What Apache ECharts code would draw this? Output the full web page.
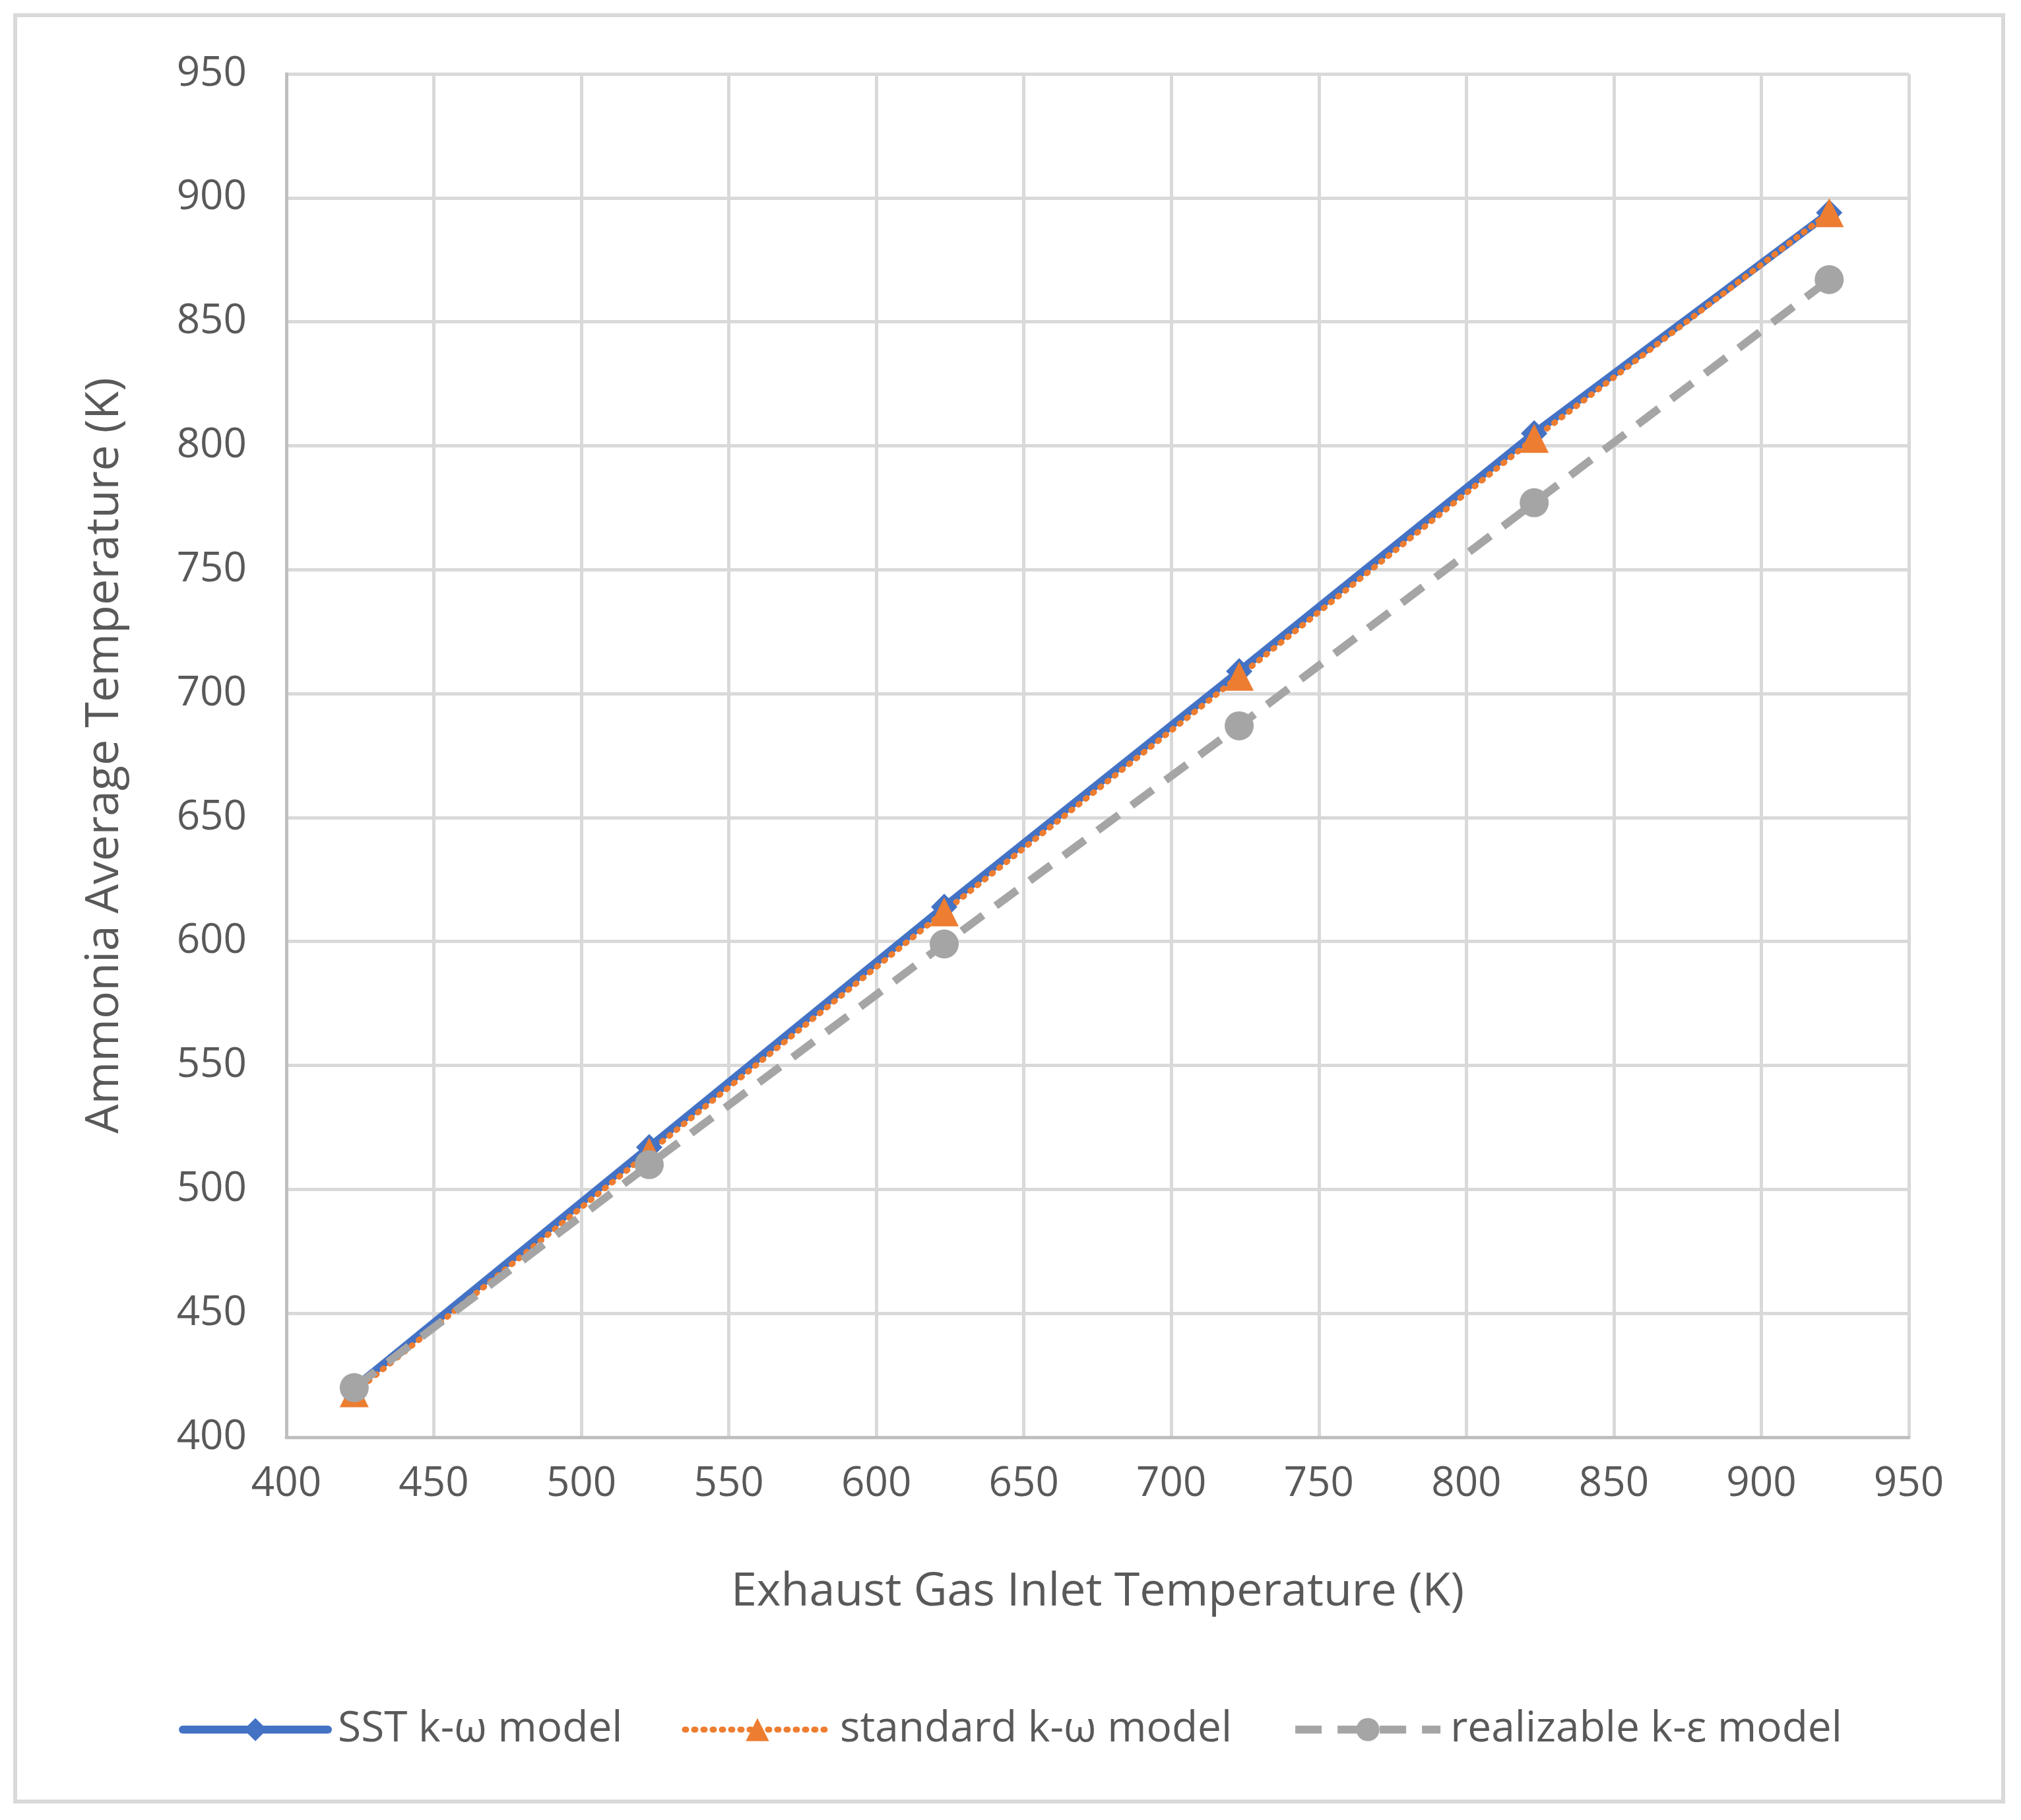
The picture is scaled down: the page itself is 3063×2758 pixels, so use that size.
<!DOCTYPE html>
<html>
<head>
<meta charset="utf-8">
<script src="https://cdn.jsdelivr.net/npm/echarts@6/dist/echarts.min.js"></script>
<style>
  html, body { margin: 0; padding: 0; background: #fff; }
  #frame { position: absolute; left: 20px; top: 20px; width: 3019px; height: 2713px; border: 6px solid #D9D9D9; box-sizing: border-box; }
  #chart { width: 3063px; height: 2758px; }
</style>
</head>
<body>
<div id="frame"></div>
<div id="chart"></div>
<script>
var xVals = [423, 523, 623, 723, 823, 923];
var sstKw = [420, 517, 614, 709, 805, 894];
var stdKw = [418, 515, 612, 707, 803, 894];
var realKe = [420, 510, 599, 687, 777, 867];
var names = ['SST k-ω model', 'standard k-ω model', 'realizable k-ε model'];

function pairs(ys) {
    return xVals.map(function (x, i) { return [x, ys[i]]; });
}

var font = 'Open Sans';
var chart = echarts.init(document.getElementById('chart'));
chart.setOption({
    animation: false,
    textStyle: { fontFamily: font },
    grid: { left: 434, right: 170, top: 112, bottom: 580 },
    legend: {
        bottom: 100,
        left: 'center',
        itemWidth: 220,
        itemHeight: 44,
        itemGap: 90,
        textStyle: { fontSize: 64, color: '#595959', fontFamily: font, padding: [0, 0, 0, 10] },
        data: [
            { name: names[0], lineStyle: { width: 12, color: '#4472C4' } },
            { name: names[1], lineStyle: { width: 9, color: '#ED7D31', type: [2, 12] } },
            { name: names[2], lineStyle: { width: 12, color: '#A5A5A5', type: [40, 24] } }
        ]
    },
    xAxis: {
        type: 'value', min: 400, max: 950, interval: 50,
        name: 'Exhaust Gas Inlet Temperature (K)',
        nameLocation: 'middle', nameGap: 200,
        nameTextStyle: { fontSize: 70, color: '#595959' },
        axisLabel: { fontSize: 62, color: '#595959', margin: 40 },
        axisLine: { show: true, lineStyle: { color: '#BFBFBF', width: 5 } },
        axisTick: { show: false },
        splitLine: { lineStyle: { color: '#D9D9D9', width: 5 } }
    },
    yAxis: {
        type: 'value', min: 400, max: 950, interval: 50,
        name: 'Ammonia Average Temperature (K)',
        nameLocation: 'middle', nameGap: 240,
        nameTextStyle: { fontSize: 70, color: '#595959' },
        axisLabel: { fontSize: 62, color: '#595959', margin: 60 },
        axisLine: { show: true, lineStyle: { color: '#BFBFBF', width: 5 } },
        axisTick: { show: false },
        splitLine: { lineStyle: { color: '#D9D9D9', width: 5 } }
    },
    series: [
        {
            name: names[0], type: 'line', data: pairs(sstKw),
            symbol: 'diamond', symbolSize: 40,
            lineStyle: { color: '#4472C4', width: 12, cap: 'round' },
            itemStyle: { color: '#4472C4' }
        },
        {
            name: names[1], type: 'line', data: pairs(stdKw),
            symbol: 'triangle', symbolSize: 44,
            lineStyle: { color: '#ED7D31', width: 9, type: [2, 12], cap: 'round' },
            itemStyle: { color: '#ED7D31' }
        },
        {
            name: names[2], type: 'line', data: pairs(realKe),
            symbol: 'circle', symbolSize: 44,
            lineStyle: { color: '#A5A5A5', width: 12, type: [40, 24] },
            itemStyle: { color: '#A5A5A5' }
        }
    ]
});
</script>
</body>
</html>
